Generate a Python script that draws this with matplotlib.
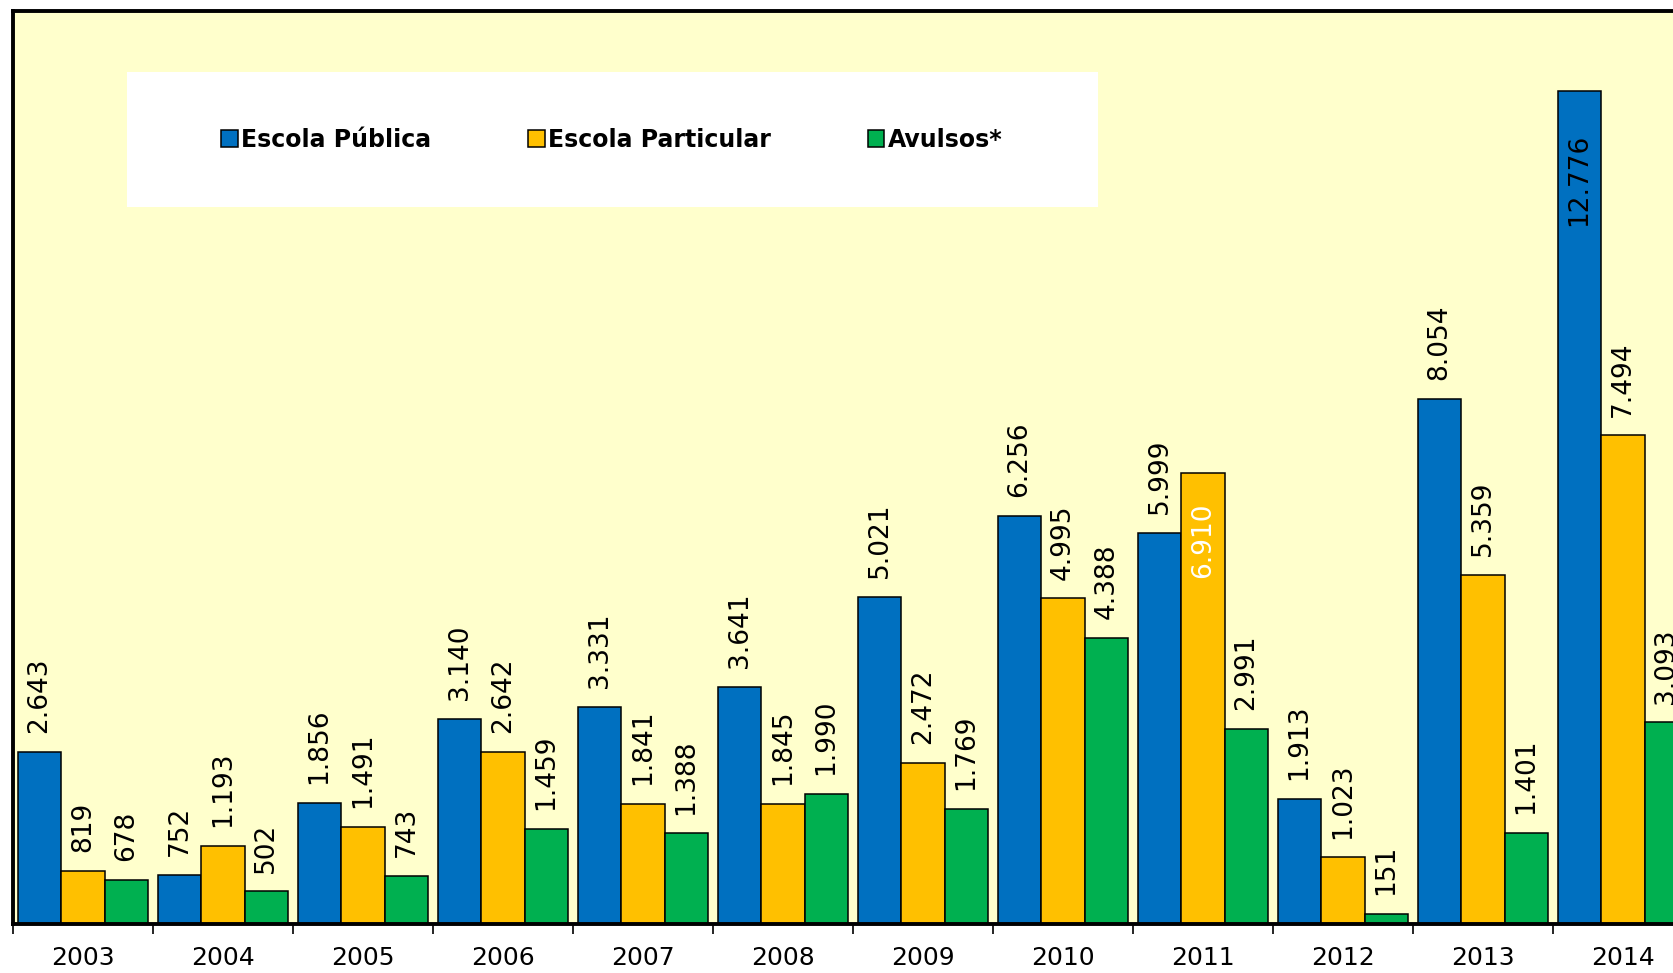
import matplotlib
matplotlib.use('Agg')
import matplotlib.pyplot as plt
from matplotlib.patches import Rectangle

# Dados
anos = ['2003', '2004', '2005', '2006', '2007', '2008', '2009', '2010', '2011', '2012', '2013', '2014']
publica = [2643, 752, 1856, 3140, 3331, 3641, 5021, 6256, 5999, 1913, 8054, 12776]
particular = [819, 1193, 1491, 2642, 1841, 1845, 2472, 4995, 6910, 1023, 5359, 7494]
avulsos = [678, 502, 743, 1459, 1388, 1990, 1769, 4388, 2991, 151, 1401, 3093]

series = [('Escola Pública', publica, '#0070C0'),
          ('Escola Particular', particular, '#FFC000'),
          ('Avulsos*', avulsos, '#00B050')]

# Rótulos dentro da barra: (ano, série) -> (cor, deslocamento em pt)
dentro = {(11, 0): ('black', -31), (8, 1): ('white', -21)}


def fmt(v):
    return f"{v:,}".replace(',', '.')


fig = plt.figure(figsize=(16.73, 9.73), dpi=100)
ax = fig.add_axes([13 / 1673, 49 / 973, 1680 / 1673, 913 / 973])
ax.set_facecolor('#FFFFCC')

largura = 0.31
x = list(range(len(anos)))
for j, (nome, valores, cor) in enumerate(series):
    pos = [i + (j - 1) * largura for i in x]
    ax.bar(pos, valores, width=largura, color=cor, edgecolor='black',
           linewidth=1.1, label=nome, zorder=2)
    for i, v in enumerate(valores):
        if (i, j) in dentro:
            c, dy = dentro[(i, j)]
            ax.annotate(fmt(v), (pos[i], v), xytext=(0, dy), textcoords='offset points',
                        rotation=90, ha='center', va='top', fontsize=19, color=c, zorder=3)
        else:
            ax.annotate(fmt(v), (pos[i], v), xytext=(0, 13.5), textcoords='offset points',
                        rotation=90, ha='center', va='bottom', fontsize=19, color='black',
                        zorder=3)

ax.set_xlim(-0.5, len(anos) - 0.5)
ax.set_ylim(0, 14000)
ax.set_yticks([])

ax.set_xticks(x)
ax.set_xticklabels(anos, fontsize=18)
ax.set_xticks([i - 0.5 for i in range(len(anos) + 1)], minor=True)
ax.tick_params(axis='x', which='major', length=0, pad=16)
ax.tick_params(axis='x', which='minor', length=7, width=1.2, color='black')

for s in ['left', 'top', 'bottom']:
    ax.spines[s].set_linewidth(2.8)
ax.spines['right'].set_visible(False)

# Caixa da legenda
ax.add_patch(Rectangle((0.068, 0.785), 0.578, 0.148, transform=ax.transAxes,
                       facecolor='white', edgecolor='none', zorder=1))
leg = ax.legend(loc='center', bbox_to_anchor=(0.3565, 0.859), ncol=3, frameon=False,
                prop={'weight': 'bold', 'size': 17}, handlelength=0.7, handleheight=0.7,
                handletextpad=0.15, columnspacing=4.1)
leg.set_zorder(4)

fig.savefig('out.png', dpi=100, facecolor='white')
